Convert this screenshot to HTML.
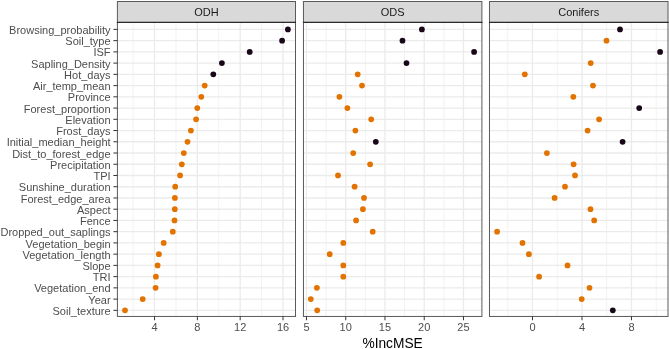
<!DOCTYPE html><html><head><meta charset="utf-8"><style>html,body{margin:0;padding:0;background:#fff;}svg{display:block;will-change:transform;}text{font-family:"Liberation Sans",sans-serif;}</style></head><body>
<svg width="669" height="349" viewBox="0 0 669 349">
<rect width="669" height="349" fill="#fff"/>
<line x1="133.14" y1="22.47" x2="133.14" y2="316.45" stroke="#ebebeb" stroke-width="0.67"/>
<line x1="175.96" y1="22.47" x2="175.96" y2="316.45" stroke="#ebebeb" stroke-width="0.67"/>
<line x1="218.77" y1="22.47" x2="218.77" y2="316.45" stroke="#ebebeb" stroke-width="0.67"/>
<line x1="261.59" y1="22.47" x2="261.59" y2="316.45" stroke="#ebebeb" stroke-width="0.67"/>
<line x1="117.4" y1="29.40" x2="295.5" y2="29.40" stroke="#ebebeb" stroke-width="1.33"/>
<line x1="117.4" y1="40.64" x2="295.5" y2="40.64" stroke="#ebebeb" stroke-width="1.33"/>
<line x1="117.4" y1="51.88" x2="295.5" y2="51.88" stroke="#ebebeb" stroke-width="1.33"/>
<line x1="117.4" y1="63.11" x2="295.5" y2="63.11" stroke="#ebebeb" stroke-width="1.33"/>
<line x1="117.4" y1="74.35" x2="295.5" y2="74.35" stroke="#ebebeb" stroke-width="1.33"/>
<line x1="117.4" y1="85.59" x2="295.5" y2="85.59" stroke="#ebebeb" stroke-width="1.33"/>
<line x1="117.4" y1="96.83" x2="295.5" y2="96.83" stroke="#ebebeb" stroke-width="1.33"/>
<line x1="117.4" y1="108.07" x2="295.5" y2="108.07" stroke="#ebebeb" stroke-width="1.33"/>
<line x1="117.4" y1="119.30" x2="295.5" y2="119.30" stroke="#ebebeb" stroke-width="1.33"/>
<line x1="117.4" y1="130.54" x2="295.5" y2="130.54" stroke="#ebebeb" stroke-width="1.33"/>
<line x1="117.4" y1="141.78" x2="295.5" y2="141.78" stroke="#ebebeb" stroke-width="1.33"/>
<line x1="117.4" y1="153.02" x2="295.5" y2="153.02" stroke="#ebebeb" stroke-width="1.33"/>
<line x1="117.4" y1="164.26" x2="295.5" y2="164.26" stroke="#ebebeb" stroke-width="1.33"/>
<line x1="117.4" y1="175.49" x2="295.5" y2="175.49" stroke="#ebebeb" stroke-width="1.33"/>
<line x1="117.4" y1="186.73" x2="295.5" y2="186.73" stroke="#ebebeb" stroke-width="1.33"/>
<line x1="117.4" y1="197.97" x2="295.5" y2="197.97" stroke="#ebebeb" stroke-width="1.33"/>
<line x1="117.4" y1="209.21" x2="295.5" y2="209.21" stroke="#ebebeb" stroke-width="1.33"/>
<line x1="117.4" y1="220.45" x2="295.5" y2="220.45" stroke="#ebebeb" stroke-width="1.33"/>
<line x1="117.4" y1="231.68" x2="295.5" y2="231.68" stroke="#ebebeb" stroke-width="1.33"/>
<line x1="117.4" y1="242.92" x2="295.5" y2="242.92" stroke="#ebebeb" stroke-width="1.33"/>
<line x1="117.4" y1="254.16" x2="295.5" y2="254.16" stroke="#ebebeb" stroke-width="1.33"/>
<line x1="117.4" y1="265.40" x2="295.5" y2="265.40" stroke="#ebebeb" stroke-width="1.33"/>
<line x1="117.4" y1="276.64" x2="295.5" y2="276.64" stroke="#ebebeb" stroke-width="1.33"/>
<line x1="117.4" y1="287.87" x2="295.5" y2="287.87" stroke="#ebebeb" stroke-width="1.33"/>
<line x1="117.4" y1="299.11" x2="295.5" y2="299.11" stroke="#ebebeb" stroke-width="1.33"/>
<line x1="117.4" y1="310.35" x2="295.5" y2="310.35" stroke="#ebebeb" stroke-width="1.33"/>
<line x1="154.55" y1="22.47" x2="154.55" y2="316.45" stroke="#ebebeb" stroke-width="1.33"/>
<line x1="197.37" y1="22.47" x2="197.37" y2="316.45" stroke="#ebebeb" stroke-width="1.33"/>
<line x1="240.18" y1="22.47" x2="240.18" y2="316.45" stroke="#ebebeb" stroke-width="1.33"/>
<line x1="283.00" y1="22.47" x2="283.00" y2="316.45" stroke="#ebebeb" stroke-width="1.33"/>
<circle cx="287.90" cy="29.40" r="2.87" fill="#180718"/>
<circle cx="282.10" cy="40.64" r="2.87" fill="#180718"/>
<circle cx="249.70" cy="51.88" r="2.87" fill="#180718"/>
<circle cx="221.90" cy="63.11" r="2.87" fill="#180718"/>
<circle cx="213.30" cy="74.35" r="2.87" fill="#180718"/>
<circle cx="204.70" cy="85.59" r="2.87" fill="#e27300"/>
<circle cx="201.30" cy="96.83" r="2.87" fill="#e27300"/>
<circle cx="197.30" cy="108.07" r="2.87" fill="#e27300"/>
<circle cx="196.10" cy="119.30" r="2.87" fill="#e27300"/>
<circle cx="190.90" cy="130.54" r="2.87" fill="#e27300"/>
<circle cx="187.50" cy="141.78" r="2.87" fill="#e27300"/>
<circle cx="183.80" cy="153.02" r="2.87" fill="#e27300"/>
<circle cx="181.80" cy="164.26" r="2.87" fill="#e27300"/>
<circle cx="180.10" cy="175.49" r="2.87" fill="#e27300"/>
<circle cx="175.20" cy="186.73" r="2.87" fill="#e27300"/>
<circle cx="174.90" cy="197.97" r="2.87" fill="#e27300"/>
<circle cx="174.80" cy="209.21" r="2.87" fill="#e27300"/>
<circle cx="174.50" cy="220.45" r="2.87" fill="#e27300"/>
<circle cx="172.80" cy="231.68" r="2.87" fill="#e27300"/>
<circle cx="163.70" cy="242.92" r="2.87" fill="#e27300"/>
<circle cx="158.90" cy="254.16" r="2.87" fill="#e27300"/>
<circle cx="157.60" cy="265.40" r="2.87" fill="#e27300"/>
<circle cx="155.90" cy="276.64" r="2.87" fill="#e27300"/>
<circle cx="155.60" cy="287.87" r="2.87" fill="#e27300"/>
<circle cx="142.70" cy="299.11" r="2.87" fill="#e27300"/>
<circle cx="125.00" cy="310.35" r="2.87" fill="#e27300"/>
<rect x="117.4" y="22.47" width="178.10" height="293.98" fill="none" stroke="#5a5a5a" stroke-width="1.0"/>
<rect x="117.4" y="1.5" width="178.10" height="20.97" fill="#d9d9d9" stroke="#5a5a5a" stroke-width="1.0"/>
<line x1="116.9" y1="22.47" x2="296.0" y2="22.47" stroke="#2a2a2a" stroke-width="1.3"/>
<text x="206.45" y="15.6" font-size="11" fill="#1a1a1a" text-anchor="middle">ODH</text>
<line x1="154.55" y1="316.45" x2="154.55" y2="320.25" stroke="#333" stroke-width="1.0"/>
<text x="154.55" y="331.0" font-size="11" fill="#4d4d4d" text-anchor="middle">4</text>
<line x1="197.37" y1="316.45" x2="197.37" y2="320.25" stroke="#333" stroke-width="1.0"/>
<text x="197.37" y="331.0" font-size="11" fill="#4d4d4d" text-anchor="middle">8</text>
<line x1="240.18" y1="316.45" x2="240.18" y2="320.25" stroke="#333" stroke-width="1.0"/>
<text x="240.18" y="331.0" font-size="11" fill="#4d4d4d" text-anchor="middle">12</text>
<line x1="283.00" y1="316.45" x2="283.00" y2="320.25" stroke="#333" stroke-width="1.0"/>
<text x="283.00" y="331.0" font-size="11" fill="#4d4d4d" text-anchor="middle">16</text>
<line x1="326.10" y1="22.47" x2="326.10" y2="316.45" stroke="#ebebeb" stroke-width="0.67"/>
<line x1="365.35" y1="22.47" x2="365.35" y2="316.45" stroke="#ebebeb" stroke-width="0.67"/>
<line x1="404.60" y1="22.47" x2="404.60" y2="316.45" stroke="#ebebeb" stroke-width="0.67"/>
<line x1="443.85" y1="22.47" x2="443.85" y2="316.45" stroke="#ebebeb" stroke-width="0.67"/>
<line x1="303.45" y1="29.40" x2="481.9" y2="29.40" stroke="#ebebeb" stroke-width="1.33"/>
<line x1="303.45" y1="40.64" x2="481.9" y2="40.64" stroke="#ebebeb" stroke-width="1.33"/>
<line x1="303.45" y1="51.88" x2="481.9" y2="51.88" stroke="#ebebeb" stroke-width="1.33"/>
<line x1="303.45" y1="63.11" x2="481.9" y2="63.11" stroke="#ebebeb" stroke-width="1.33"/>
<line x1="303.45" y1="74.35" x2="481.9" y2="74.35" stroke="#ebebeb" stroke-width="1.33"/>
<line x1="303.45" y1="85.59" x2="481.9" y2="85.59" stroke="#ebebeb" stroke-width="1.33"/>
<line x1="303.45" y1="96.83" x2="481.9" y2="96.83" stroke="#ebebeb" stroke-width="1.33"/>
<line x1="303.45" y1="108.07" x2="481.9" y2="108.07" stroke="#ebebeb" stroke-width="1.33"/>
<line x1="303.45" y1="119.30" x2="481.9" y2="119.30" stroke="#ebebeb" stroke-width="1.33"/>
<line x1="303.45" y1="130.54" x2="481.9" y2="130.54" stroke="#ebebeb" stroke-width="1.33"/>
<line x1="303.45" y1="141.78" x2="481.9" y2="141.78" stroke="#ebebeb" stroke-width="1.33"/>
<line x1="303.45" y1="153.02" x2="481.9" y2="153.02" stroke="#ebebeb" stroke-width="1.33"/>
<line x1="303.45" y1="164.26" x2="481.9" y2="164.26" stroke="#ebebeb" stroke-width="1.33"/>
<line x1="303.45" y1="175.49" x2="481.9" y2="175.49" stroke="#ebebeb" stroke-width="1.33"/>
<line x1="303.45" y1="186.73" x2="481.9" y2="186.73" stroke="#ebebeb" stroke-width="1.33"/>
<line x1="303.45" y1="197.97" x2="481.9" y2="197.97" stroke="#ebebeb" stroke-width="1.33"/>
<line x1="303.45" y1="209.21" x2="481.9" y2="209.21" stroke="#ebebeb" stroke-width="1.33"/>
<line x1="303.45" y1="220.45" x2="481.9" y2="220.45" stroke="#ebebeb" stroke-width="1.33"/>
<line x1="303.45" y1="231.68" x2="481.9" y2="231.68" stroke="#ebebeb" stroke-width="1.33"/>
<line x1="303.45" y1="242.92" x2="481.9" y2="242.92" stroke="#ebebeb" stroke-width="1.33"/>
<line x1="303.45" y1="254.16" x2="481.9" y2="254.16" stroke="#ebebeb" stroke-width="1.33"/>
<line x1="303.45" y1="265.40" x2="481.9" y2="265.40" stroke="#ebebeb" stroke-width="1.33"/>
<line x1="303.45" y1="276.64" x2="481.9" y2="276.64" stroke="#ebebeb" stroke-width="1.33"/>
<line x1="303.45" y1="287.87" x2="481.9" y2="287.87" stroke="#ebebeb" stroke-width="1.33"/>
<line x1="303.45" y1="299.11" x2="481.9" y2="299.11" stroke="#ebebeb" stroke-width="1.33"/>
<line x1="303.45" y1="310.35" x2="481.9" y2="310.35" stroke="#ebebeb" stroke-width="1.33"/>
<line x1="306.47" y1="22.47" x2="306.47" y2="316.45" stroke="#ebebeb" stroke-width="1.33"/>
<line x1="345.72" y1="22.47" x2="345.72" y2="316.45" stroke="#ebebeb" stroke-width="1.33"/>
<line x1="384.97" y1="22.47" x2="384.97" y2="316.45" stroke="#ebebeb" stroke-width="1.33"/>
<line x1="424.22" y1="22.47" x2="424.22" y2="316.45" stroke="#ebebeb" stroke-width="1.33"/>
<line x1="463.47" y1="22.47" x2="463.47" y2="316.45" stroke="#ebebeb" stroke-width="1.33"/>
<circle cx="421.90" cy="29.40" r="2.87" fill="#180718"/>
<circle cx="402.50" cy="40.64" r="2.87" fill="#180718"/>
<circle cx="474.10" cy="51.88" r="2.87" fill="#180718"/>
<circle cx="406.50" cy="63.11" r="2.87" fill="#180718"/>
<circle cx="357.70" cy="74.35" r="2.87" fill="#e27300"/>
<circle cx="362.00" cy="85.59" r="2.87" fill="#e27300"/>
<circle cx="339.40" cy="96.83" r="2.87" fill="#e27300"/>
<circle cx="347.40" cy="108.07" r="2.87" fill="#e27300"/>
<circle cx="371.20" cy="119.30" r="2.87" fill="#e27300"/>
<circle cx="355.40" cy="130.54" r="2.87" fill="#e27300"/>
<circle cx="375.80" cy="141.78" r="2.87" fill="#180718"/>
<circle cx="353.20" cy="153.02" r="2.87" fill="#e27300"/>
<circle cx="370.10" cy="164.26" r="2.87" fill="#e27300"/>
<circle cx="338.00" cy="175.49" r="2.87" fill="#e27300"/>
<circle cx="354.60" cy="186.73" r="2.87" fill="#e27300"/>
<circle cx="364.00" cy="197.97" r="2.87" fill="#e27300"/>
<circle cx="362.90" cy="209.21" r="2.87" fill="#e27300"/>
<circle cx="356.10" cy="220.45" r="2.87" fill="#e27300"/>
<circle cx="372.70" cy="231.68" r="2.87" fill="#e27300"/>
<circle cx="343.30" cy="242.92" r="2.87" fill="#e27300"/>
<circle cx="329.70" cy="254.16" r="2.87" fill="#e27300"/>
<circle cx="343.30" cy="265.40" r="2.87" fill="#e27300"/>
<circle cx="343.30" cy="276.64" r="2.87" fill="#e27300"/>
<circle cx="316.90" cy="287.87" r="2.87" fill="#e27300"/>
<circle cx="310.80" cy="299.11" r="2.87" fill="#e27300"/>
<circle cx="317.20" cy="310.35" r="2.87" fill="#e27300"/>
<rect x="303.45" y="22.47" width="178.45" height="293.98" fill="none" stroke="#5a5a5a" stroke-width="1.0"/>
<rect x="303.45" y="1.5" width="178.45" height="20.97" fill="#d9d9d9" stroke="#5a5a5a" stroke-width="1.0"/>
<line x1="302.95" y1="22.47" x2="482.4" y2="22.47" stroke="#2a2a2a" stroke-width="1.3"/>
<text x="392.67" y="15.6" font-size="11" fill="#1a1a1a" text-anchor="middle">ODS</text>
<line x1="306.47" y1="316.45" x2="306.47" y2="320.25" stroke="#333" stroke-width="1.0"/>
<text x="306.47" y="331.0" font-size="11" fill="#4d4d4d" text-anchor="middle">5</text>
<line x1="345.72" y1="316.45" x2="345.72" y2="320.25" stroke="#333" stroke-width="1.0"/>
<text x="345.72" y="331.0" font-size="11" fill="#4d4d4d" text-anchor="middle">10</text>
<line x1="384.97" y1="316.45" x2="384.97" y2="320.25" stroke="#333" stroke-width="1.0"/>
<text x="384.97" y="331.0" font-size="11" fill="#4d4d4d" text-anchor="middle">15</text>
<line x1="424.22" y1="316.45" x2="424.22" y2="320.25" stroke="#333" stroke-width="1.0"/>
<text x="424.22" y="331.0" font-size="11" fill="#4d4d4d" text-anchor="middle">20</text>
<line x1="463.47" y1="316.45" x2="463.47" y2="320.25" stroke="#333" stroke-width="1.0"/>
<text x="463.47" y="331.0" font-size="11" fill="#4d4d4d" text-anchor="middle">25</text>
<line x1="507.72" y1="22.47" x2="507.72" y2="316.45" stroke="#ebebeb" stroke-width="0.67"/>
<line x1="557.22" y1="22.47" x2="557.22" y2="316.45" stroke="#ebebeb" stroke-width="0.67"/>
<line x1="606.72" y1="22.47" x2="606.72" y2="316.45" stroke="#ebebeb" stroke-width="0.67"/>
<line x1="656.22" y1="22.47" x2="656.22" y2="316.45" stroke="#ebebeb" stroke-width="0.67"/>
<line x1="489.47" y1="29.40" x2="668.0" y2="29.40" stroke="#ebebeb" stroke-width="1.33"/>
<line x1="489.47" y1="40.64" x2="668.0" y2="40.64" stroke="#ebebeb" stroke-width="1.33"/>
<line x1="489.47" y1="51.88" x2="668.0" y2="51.88" stroke="#ebebeb" stroke-width="1.33"/>
<line x1="489.47" y1="63.11" x2="668.0" y2="63.11" stroke="#ebebeb" stroke-width="1.33"/>
<line x1="489.47" y1="74.35" x2="668.0" y2="74.35" stroke="#ebebeb" stroke-width="1.33"/>
<line x1="489.47" y1="85.59" x2="668.0" y2="85.59" stroke="#ebebeb" stroke-width="1.33"/>
<line x1="489.47" y1="96.83" x2="668.0" y2="96.83" stroke="#ebebeb" stroke-width="1.33"/>
<line x1="489.47" y1="108.07" x2="668.0" y2="108.07" stroke="#ebebeb" stroke-width="1.33"/>
<line x1="489.47" y1="119.30" x2="668.0" y2="119.30" stroke="#ebebeb" stroke-width="1.33"/>
<line x1="489.47" y1="130.54" x2="668.0" y2="130.54" stroke="#ebebeb" stroke-width="1.33"/>
<line x1="489.47" y1="141.78" x2="668.0" y2="141.78" stroke="#ebebeb" stroke-width="1.33"/>
<line x1="489.47" y1="153.02" x2="668.0" y2="153.02" stroke="#ebebeb" stroke-width="1.33"/>
<line x1="489.47" y1="164.26" x2="668.0" y2="164.26" stroke="#ebebeb" stroke-width="1.33"/>
<line x1="489.47" y1="175.49" x2="668.0" y2="175.49" stroke="#ebebeb" stroke-width="1.33"/>
<line x1="489.47" y1="186.73" x2="668.0" y2="186.73" stroke="#ebebeb" stroke-width="1.33"/>
<line x1="489.47" y1="197.97" x2="668.0" y2="197.97" stroke="#ebebeb" stroke-width="1.33"/>
<line x1="489.47" y1="209.21" x2="668.0" y2="209.21" stroke="#ebebeb" stroke-width="1.33"/>
<line x1="489.47" y1="220.45" x2="668.0" y2="220.45" stroke="#ebebeb" stroke-width="1.33"/>
<line x1="489.47" y1="231.68" x2="668.0" y2="231.68" stroke="#ebebeb" stroke-width="1.33"/>
<line x1="489.47" y1="242.92" x2="668.0" y2="242.92" stroke="#ebebeb" stroke-width="1.33"/>
<line x1="489.47" y1="254.16" x2="668.0" y2="254.16" stroke="#ebebeb" stroke-width="1.33"/>
<line x1="489.47" y1="265.40" x2="668.0" y2="265.40" stroke="#ebebeb" stroke-width="1.33"/>
<line x1="489.47" y1="276.64" x2="668.0" y2="276.64" stroke="#ebebeb" stroke-width="1.33"/>
<line x1="489.47" y1="287.87" x2="668.0" y2="287.87" stroke="#ebebeb" stroke-width="1.33"/>
<line x1="489.47" y1="299.11" x2="668.0" y2="299.11" stroke="#ebebeb" stroke-width="1.33"/>
<line x1="489.47" y1="310.35" x2="668.0" y2="310.35" stroke="#ebebeb" stroke-width="1.33"/>
<line x1="532.47" y1="22.47" x2="532.47" y2="316.45" stroke="#ebebeb" stroke-width="1.33"/>
<line x1="581.97" y1="22.47" x2="581.97" y2="316.45" stroke="#ebebeb" stroke-width="1.33"/>
<line x1="631.47" y1="22.47" x2="631.47" y2="316.45" stroke="#ebebeb" stroke-width="1.33"/>
<circle cx="620.00" cy="29.40" r="2.87" fill="#180718"/>
<circle cx="606.50" cy="40.64" r="2.87" fill="#e27300"/>
<circle cx="660.10" cy="51.88" r="2.87" fill="#180718"/>
<circle cx="590.70" cy="63.11" r="2.87" fill="#e27300"/>
<circle cx="524.80" cy="74.35" r="2.87" fill="#e27300"/>
<circle cx="593.00" cy="85.59" r="2.87" fill="#e27300"/>
<circle cx="573.30" cy="96.83" r="2.87" fill="#e27300"/>
<circle cx="639.20" cy="108.07" r="2.87" fill="#180718"/>
<circle cx="599.10" cy="119.30" r="2.87" fill="#e27300"/>
<circle cx="587.60" cy="130.54" r="2.87" fill="#e27300"/>
<circle cx="622.60" cy="141.78" r="2.87" fill="#180718"/>
<circle cx="546.90" cy="153.02" r="2.87" fill="#e27300"/>
<circle cx="573.60" cy="164.26" r="2.87" fill="#e27300"/>
<circle cx="575.00" cy="175.49" r="2.87" fill="#e27300"/>
<circle cx="565.00" cy="186.73" r="2.87" fill="#e27300"/>
<circle cx="554.60" cy="197.97" r="2.87" fill="#e27300"/>
<circle cx="590.50" cy="209.21" r="2.87" fill="#e27300"/>
<circle cx="594.20" cy="220.45" r="2.87" fill="#e27300"/>
<circle cx="497.10" cy="231.68" r="2.87" fill="#e27300"/>
<circle cx="522.50" cy="242.92" r="2.87" fill="#e27300"/>
<circle cx="528.90" cy="254.16" r="2.87" fill="#e27300"/>
<circle cx="567.50" cy="265.40" r="2.87" fill="#e27300"/>
<circle cx="539.10" cy="276.64" r="2.87" fill="#e27300"/>
<circle cx="589.50" cy="287.87" r="2.87" fill="#e27300"/>
<circle cx="581.70" cy="299.11" r="2.87" fill="#e27300"/>
<circle cx="612.80" cy="310.35" r="2.87" fill="#180718"/>
<rect x="489.47" y="22.47" width="178.53" height="293.98" fill="none" stroke="#5a5a5a" stroke-width="1.0"/>
<rect x="489.47" y="1.5" width="178.53" height="20.97" fill="#d9d9d9" stroke="#5a5a5a" stroke-width="1.0"/>
<line x1="488.97" y1="22.47" x2="668.5" y2="22.47" stroke="#2a2a2a" stroke-width="1.3"/>
<text x="578.74" y="15.6" font-size="11" fill="#1a1a1a" text-anchor="middle">Conifers</text>
<line x1="532.47" y1="316.45" x2="532.47" y2="320.25" stroke="#333" stroke-width="1.0"/>
<text x="532.47" y="331.0" font-size="11" fill="#4d4d4d" text-anchor="middle">0</text>
<line x1="581.97" y1="316.45" x2="581.97" y2="320.25" stroke="#333" stroke-width="1.0"/>
<text x="581.97" y="331.0" font-size="11" fill="#4d4d4d" text-anchor="middle">4</text>
<line x1="631.47" y1="316.45" x2="631.47" y2="320.25" stroke="#333" stroke-width="1.0"/>
<text x="631.47" y="331.0" font-size="11" fill="#4d4d4d" text-anchor="middle">8</text>
<line x1="113.40" y1="29.40" x2="117.4" y2="29.40" stroke="#333" stroke-width="1.0"/>
<text x="110.6" y="34.00" font-size="11" fill="#4d4d4d" text-anchor="end">Browsing_probability</text>
<line x1="113.40" y1="40.64" x2="117.4" y2="40.64" stroke="#333" stroke-width="1.0"/>
<text x="110.6" y="45.24" font-size="11" fill="#4d4d4d" text-anchor="end">Soil_type</text>
<line x1="113.40" y1="51.88" x2="117.4" y2="51.88" stroke="#333" stroke-width="1.0"/>
<text x="110.6" y="56.48" font-size="11" fill="#4d4d4d" text-anchor="end">ISF</text>
<line x1="113.40" y1="63.11" x2="117.4" y2="63.11" stroke="#333" stroke-width="1.0"/>
<text x="110.6" y="67.71" font-size="11" fill="#4d4d4d" text-anchor="end">Sapling_Density</text>
<line x1="113.40" y1="74.35" x2="117.4" y2="74.35" stroke="#333" stroke-width="1.0"/>
<text x="110.6" y="78.95" font-size="11" fill="#4d4d4d" text-anchor="end">Hot_days</text>
<line x1="113.40" y1="85.59" x2="117.4" y2="85.59" stroke="#333" stroke-width="1.0"/>
<text x="110.6" y="90.19" font-size="11" fill="#4d4d4d" text-anchor="end">Air_temp_mean</text>
<line x1="113.40" y1="96.83" x2="117.4" y2="96.83" stroke="#333" stroke-width="1.0"/>
<text x="110.6" y="101.43" font-size="11" fill="#4d4d4d" text-anchor="end">Province</text>
<line x1="113.40" y1="108.07" x2="117.4" y2="108.07" stroke="#333" stroke-width="1.0"/>
<text x="110.6" y="112.67" font-size="11" fill="#4d4d4d" text-anchor="end">Forest_proportion</text>
<line x1="113.40" y1="119.30" x2="117.4" y2="119.30" stroke="#333" stroke-width="1.0"/>
<text x="110.6" y="123.90" font-size="11" fill="#4d4d4d" text-anchor="end">Elevation</text>
<line x1="113.40" y1="130.54" x2="117.4" y2="130.54" stroke="#333" stroke-width="1.0"/>
<text x="110.6" y="135.14" font-size="11" fill="#4d4d4d" text-anchor="end">Frost_days</text>
<line x1="113.40" y1="141.78" x2="117.4" y2="141.78" stroke="#333" stroke-width="1.0"/>
<text x="110.6" y="146.38" font-size="11" fill="#4d4d4d" text-anchor="end">Initial_median_height</text>
<line x1="113.40" y1="153.02" x2="117.4" y2="153.02" stroke="#333" stroke-width="1.0"/>
<text x="110.6" y="157.62" font-size="11" fill="#4d4d4d" text-anchor="end">Dist_to_forest_edge</text>
<line x1="113.40" y1="164.26" x2="117.4" y2="164.26" stroke="#333" stroke-width="1.0"/>
<text x="110.6" y="168.86" font-size="11" fill="#4d4d4d" text-anchor="end">Precipitation</text>
<line x1="113.40" y1="175.49" x2="117.4" y2="175.49" stroke="#333" stroke-width="1.0"/>
<text x="110.6" y="180.09" font-size="11" fill="#4d4d4d" text-anchor="end">TPI</text>
<line x1="113.40" y1="186.73" x2="117.4" y2="186.73" stroke="#333" stroke-width="1.0"/>
<text x="110.6" y="191.33" font-size="11" fill="#4d4d4d" text-anchor="end">Sunshine_duration</text>
<line x1="113.40" y1="197.97" x2="117.4" y2="197.97" stroke="#333" stroke-width="1.0"/>
<text x="110.6" y="202.57" font-size="11" fill="#4d4d4d" text-anchor="end">Forest_edge_area</text>
<line x1="113.40" y1="209.21" x2="117.4" y2="209.21" stroke="#333" stroke-width="1.0"/>
<text x="110.6" y="213.81" font-size="11" fill="#4d4d4d" text-anchor="end">Aspect</text>
<line x1="113.40" y1="220.45" x2="117.4" y2="220.45" stroke="#333" stroke-width="1.0"/>
<text x="110.6" y="225.05" font-size="11" fill="#4d4d4d" text-anchor="end">Fence</text>
<line x1="113.40" y1="231.68" x2="117.4" y2="231.68" stroke="#333" stroke-width="1.0"/>
<text x="110.6" y="236.28" font-size="11" fill="#4d4d4d" text-anchor="end">Dropped_out_saplings</text>
<line x1="113.40" y1="242.92" x2="117.4" y2="242.92" stroke="#333" stroke-width="1.0"/>
<text x="110.6" y="247.52" font-size="11" fill="#4d4d4d" text-anchor="end">Vegetation_begin</text>
<line x1="113.40" y1="254.16" x2="117.4" y2="254.16" stroke="#333" stroke-width="1.0"/>
<text x="110.6" y="258.76" font-size="11" fill="#4d4d4d" text-anchor="end">Vegetation_length</text>
<line x1="113.40" y1="265.40" x2="117.4" y2="265.40" stroke="#333" stroke-width="1.0"/>
<text x="110.6" y="270.00" font-size="11" fill="#4d4d4d" text-anchor="end">Slope</text>
<line x1="113.40" y1="276.64" x2="117.4" y2="276.64" stroke="#333" stroke-width="1.0"/>
<text x="110.6" y="281.24" font-size="11" fill="#4d4d4d" text-anchor="end">TRI</text>
<line x1="113.40" y1="287.87" x2="117.4" y2="287.87" stroke="#333" stroke-width="1.0"/>
<text x="110.6" y="292.47" font-size="11" fill="#4d4d4d" text-anchor="end">Vegetation_end</text>
<line x1="113.40" y1="299.11" x2="117.4" y2="299.11" stroke="#333" stroke-width="1.0"/>
<text x="110.6" y="303.71" font-size="11" fill="#4d4d4d" text-anchor="end">Year</text>
<line x1="113.40" y1="310.35" x2="117.4" y2="310.35" stroke="#333" stroke-width="1.0"/>
<text x="110.6" y="314.95" font-size="11" fill="#4d4d4d" text-anchor="end">Soil_texture</text>
<text x="392.6" y="348.2" font-size="13.75" fill="#000" text-anchor="middle">%IncMSE</text>
</svg></body></html>
